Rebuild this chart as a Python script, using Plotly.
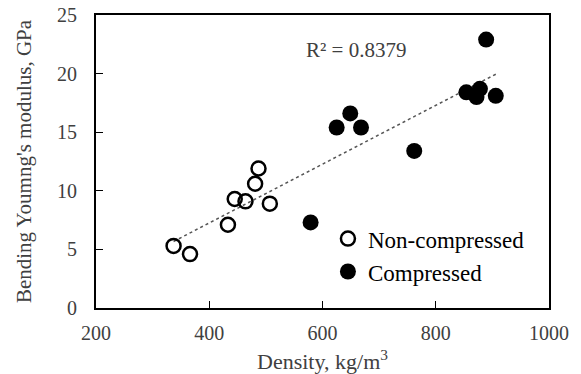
import numpy as np
import plotly.graph_objects as go

# Non-compressed samples
nc_density = [337, 366, 433, 445, 464, 481, 487, 507]
nc_modulus = [5.3, 4.6, 7.1, 9.3, 9.1, 10.6, 11.9, 8.9]

# Compressed samples
c_density = [579, 625, 649, 668, 762, 854, 872, 878, 906, 889]
c_modulus = [7.3, 15.4, 16.6, 15.4, 13.4, 18.4, 18.0, 18.7, 18.1, 22.9]

r2_label = "R² = 0.8379"

x_all = np.array(nc_density + c_density, dtype=float)
y_all = np.array(nc_modulus + c_modulus, dtype=float)
slope, intercept = np.polyfit(x_all, y_all, 1)
x_fit = np.array([x_all.min(), x_all.max()])
y_fit = slope * x_fit + intercept

font_family = "Liberation Serif, Times New Roman, serif"

fig = go.Figure()
fig.add_trace(go.Scatter(
    x=x_fit, y=y_fit, mode="lines",
    line=dict(color="#555555", width=1.5, dash="dot"),
    showlegend=False, hoverinfo="skip"))
fig.add_trace(go.Scatter(
    x=nc_density, y=nc_modulus, mode="markers", name="Non-compressed",
    marker=dict(symbol="circle-open", size=14, color="black",
                line=dict(width=2.5, color="black"))))
fig.add_trace(go.Scatter(
    x=c_density, y=c_modulus, mode="markers", name="Compressed",
    marker=dict(symbol="circle", size=16, color="black")))

fig.add_annotation(xref="x", yref="y", x=659, y=22.0, text=r2_label,
                   showarrow=False, font=dict(family=font_family, size=21, color="#404040"))

fig.update_layout(
    width=581, height=374,
    margin=dict(l=96, r=32, t=15, b=66),
    paper_bgcolor="white", plot_bgcolor="white",
    font=dict(family=font_family, size=20, color="#404040"),
    legend=dict(x=0.512, y=0.31, xanchor="left", yanchor="top",
                font=dict(family=font_family, size=23, color="black"),
                bgcolor="rgba(0,0,0,0)", itemwidth=30, tracegroupgap=0),
    xaxis=dict(range=[200, 1000], dtick=200, showgrid=False, zeroline=False,
               automargin=False,
               showline=True, linecolor="black", linewidth=2, mirror=True,
               ticks="inside", ticklen=7, tickcolor="black", tickwidth=1.3,
               ticklabelstandoff=6,
               title=dict(text="Density, kg/m<sup>3</sup>", standoff=13,
                          font=dict(family=font_family, size=22, color="#404040"))),
    yaxis=dict(range=[0, 25], dtick=5, showgrid=False, zeroline=False,
               automargin=False,
               showline=True, linecolor="black", linewidth=2, mirror=True,
               ticks="inside", ticklen=7, tickcolor="black", tickwidth=1.3,
               ticklabelstandoff=13,
               title=dict(text="Bending Youmng's modulus, GPa", standoff=20,
                          font=dict(family=font_family, size=21, color="#404040"))),
)

fig.write_html("out.html", config={"displayModeBar": False},
               post_script="document.body.style.margin='0';")
